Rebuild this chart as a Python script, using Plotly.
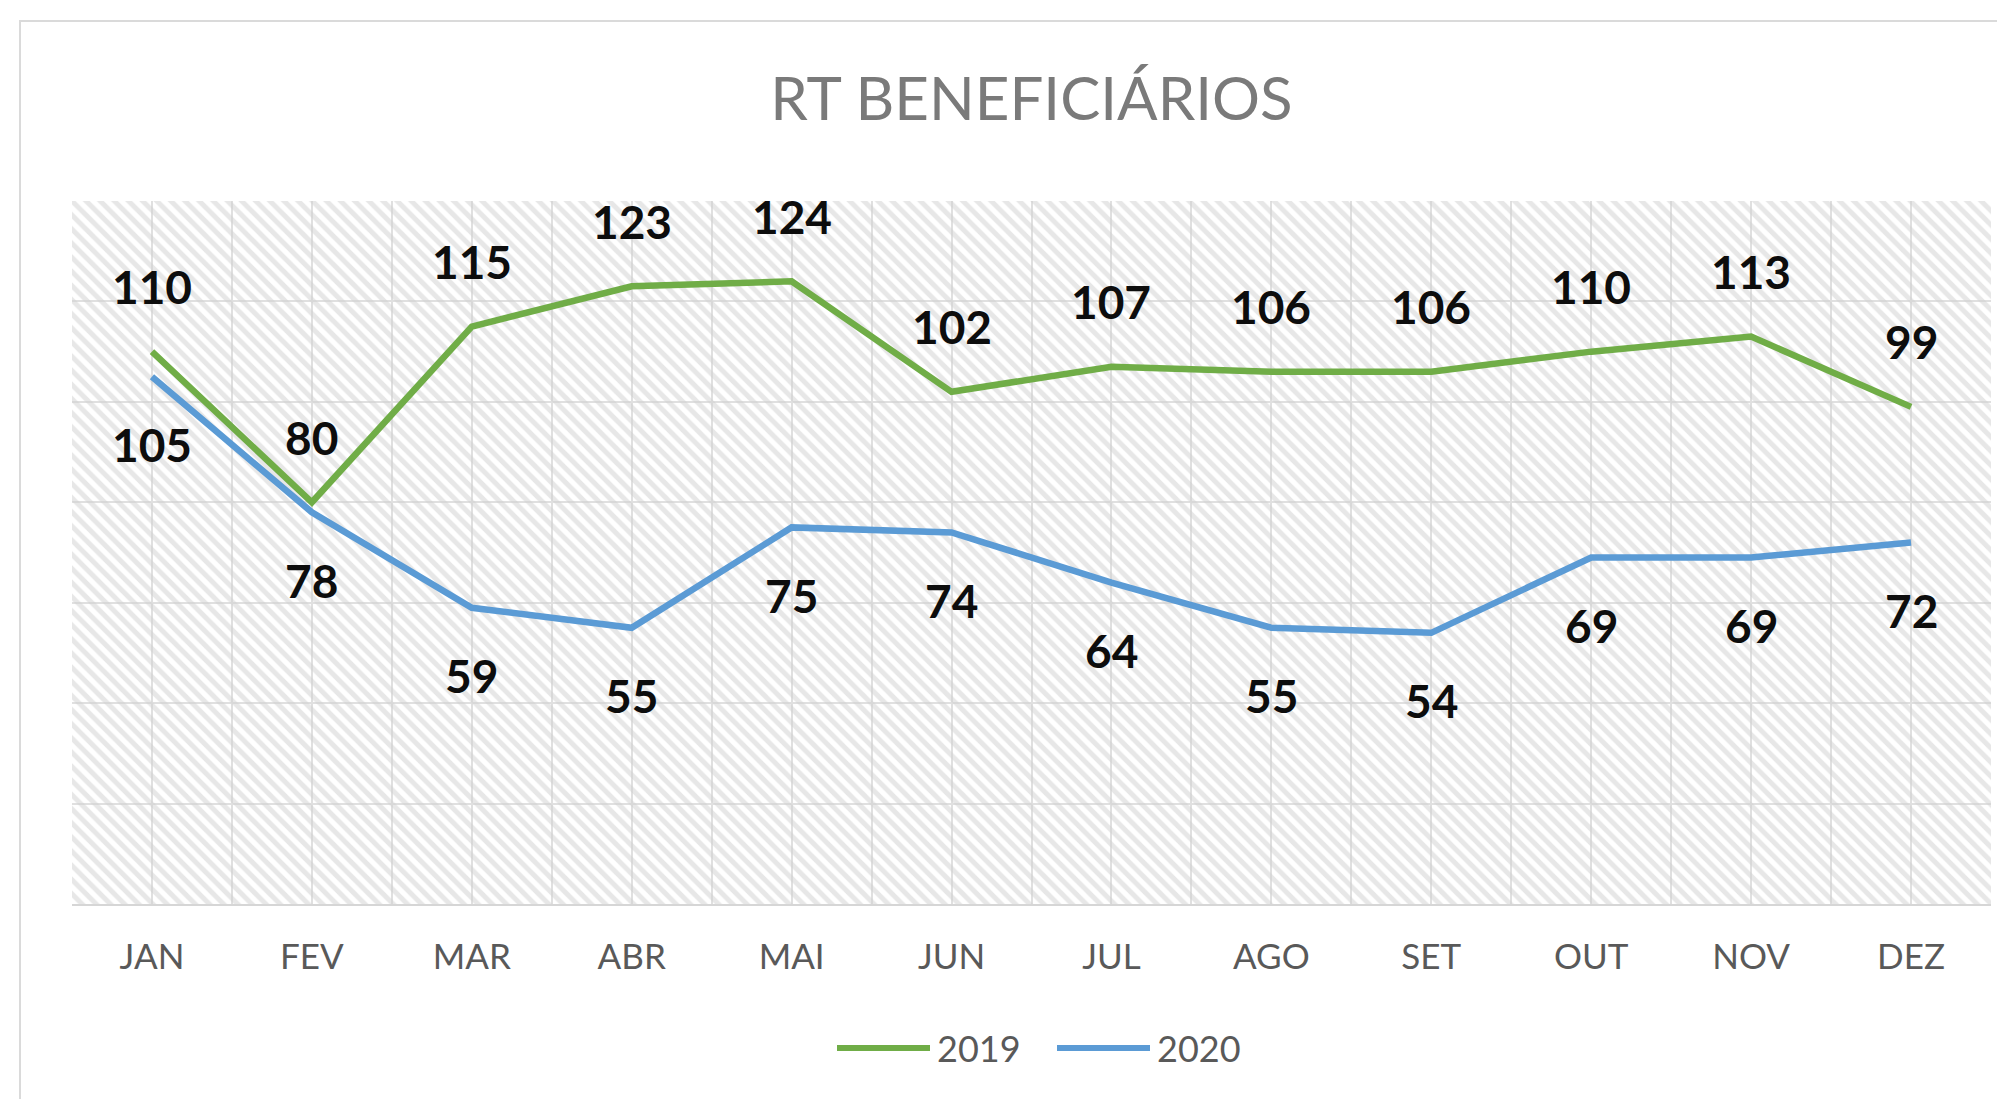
import plotly.graph_objects as go

# Monthly counts of RT beneficiaries
months = ["JAN", "FEV", "MAR", "ABR", "MAI", "JUN", "JUL", "AGO", "SET", "OUT", "NOV", "DEZ"]
rt_2019 = [110, 80, 115, 123, 124, 102, 107, 106, 106, 110, 113, 99]
rt_2020 = [105, 78, 59, 55, 75, 74, 64, 55, 54, 69, 69, 72]
series_names = ["2019", "2020"]
y_max = 140
y_step = 20

# Canvas and plot-area geometry (pixels)
W, H = 1997, 1099
L, R, T, B = 72, 6, 201, 195
plot_w = W - L - R
plot_h = H - T - B


def px_x(px):
    return (px - L) / plot_w


def px_y(py):
    return (H - B - py) / plot_h


GREEN = "#70AD47"
BLUE = "#5B9BD5"
GRID = "#e0e0e0"
FONT = "Lato"

x = list(range(len(months)))
n = len(months)

fig = go.Figure()

# Hatched plot-area background
fig.add_trace(go.Scatter(
    x=[-0.5, n - 0.5, n - 0.5, -0.5, -0.5],
    y=[0, 0, y_max, y_max, 0],
    fill="toself", mode="none",
    fillcolor="rgba(0,0,0,0)",
    fillpattern=dict(shape="\\", fgcolor="#cfcfcf", bgcolor="rgba(0,0,0,0)",
                     size=10, solidity=0.5),
    hoverinfo="skip", showlegend=False,
))

series = [(series_names[0], rt_2019, GREEN, 65), (series_names[1], rt_2020, BLUE, -68)]

for name, vals, color, shift in series:
    fig.add_trace(go.Scatter(
        x=x, y=vals, mode="lines", name=name,
        line=dict(color=color, width=6.5),
        showlegend=False,
    ))
    for i, v in zip(x, vals):
        fig.add_annotation(
            x=i, y=v, xref="x", yref="y", text=f"<b>{v}</b>", showarrow=False,
            yshift=shift, xanchor="center", yanchor="middle",
            font=dict(family=FONT, size=46, color="#0d0d0d"),
        )

# Legend drawn below the axis
leg_y = px_y(1048)
leg_start = 837
leg_gap = 220
for k, (name, vals, color, shift) in enumerate(series):
    x0 = leg_start + k * leg_gap
    fig.add_shape(type="line", xref="paper", yref="paper",
                  x0=px_x(x0), x1=px_x(x0 + 93), y0=leg_y, y1=leg_y,
                  line=dict(color=color, width=6))
    fig.add_annotation(x=px_x(x0 + 98), y=leg_y, xref="paper", yref="paper",
                       text=name, showarrow=False, xanchor="left", yanchor="middle",
                       font=dict(family=FONT, size=36, color="#595959"))

# Chart-area border
fig.add_shape(type="rect", xref="paper", yref="paper",
              x0=px_x(20), x1=px_x(W + 20), y0=px_y(21), y1=px_y(H + 20),
              line=dict(color="#dadada", width=2), layer="above")

fig.update_layout(
    width=W, height=H, autosize=False,
    margin=dict(l=L, r=R, t=T, b=B),
    paper_bgcolor="white", plot_bgcolor="white",
    showlegend=False,
    title=dict(text="RT BENEFICIÁRIOS", x=0.5, xref="paper", xanchor="center",
               y=1 - 99 / H, yref="container", yanchor="middle",
               font=dict(family=FONT, size=60, color="#7a7a7a")),
    xaxis=dict(
        range=[-0.5, n - 0.5], tickmode="array", tickvals=x, ticktext=months,
        showgrid=True, gridcolor=GRID, gridwidth=2, zeroline=False,
        minor=dict(tickmode="array", tickvals=[i - 0.5 for i in range(n + 1)],
                   showgrid=True, gridcolor=GRID, gridwidth=2),
        showline=True, linecolor="#d6d6d6", linewidth=2,
        ticks="", ticklabelstandoff=21,
        tickfont=dict(family=FONT, size=35, color="#595959"),
    ),
    yaxis=dict(
        range=[0, y_max], tickmode="linear", tick0=0, dtick=y_step,
        showticklabels=False, showgrid=True, gridcolor=GRID, gridwidth=2,
        zeroline=False, showline=False,
    ),
)

fig.write_html("out.html")
